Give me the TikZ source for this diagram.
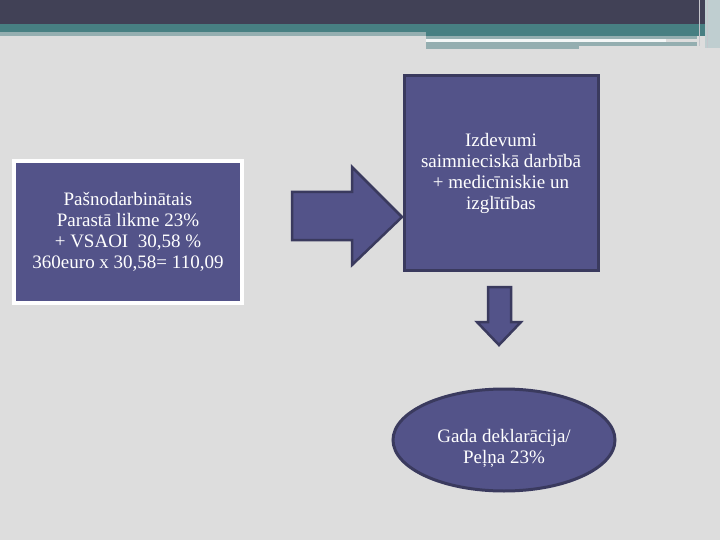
\documentclass[tikz,border=0pt]{standalone}
\usepackage{fontspec}
\setmainfont{Liberation Serif}
\usetikzlibrary{shapes.geometric}
\definecolor{slidebg}{RGB}{221,221,221}
\definecolor{hdrdark}{RGB}{65,65,86}
\definecolor{hdrteal}{RGB}{71,127,130}
\definecolor{hdrpale}{RGB}{148,174,176}
\definecolor{boxfill}{RGB}{83,83,137}
\definecolor{boxline}{RGB}{58,58,94}
\tikzset{
  blocktext/.style={text=white,align=center,font=\fontsize{19}{21}\selectfont},
  blockbox/.style={blocktext,fill=boxfill},
  blockarrow/.style={fill=boxfill,draw=boxline,line width=2.5pt,line join=miter}
}

\begin{document}
\begin{tikzpicture}[x=1pt,y=-1pt]
  \useasboundingbox (0,0) rectangle (720,540);
  \fill[slidebg] (0,0) rectangle (720,540);
  % header bands
  \fill[hdrdark] (0,0) rectangle (720,24);
  \fill[hdrteal] (0,24) rectangle (705,32);
  \fill[hdrpale] (0,32) rectangle (426,36);
  \fill[hdrteal] (426,32) rectangle (705,36);
  \fill[hdrpale] (426,36) rectangle (697,39);
  \fill[white!90!hdrpale] (426,39) rectangle (666,42);
  \fill[hdrpale] (426,42) rectangle (579,49);
  \fill[hdrpale] (579,42) rectangle (697,46);
  \fill[hdrpale!60!white] (705,0) rectangle (720,48);
  \draw[white!70!hdrdark,line width=1pt] (699,0) -- (699,46);
  \draw[white!70!hdrdark,line width=1pt] (707,0) -- (707,48);

  % left box
  \draw(128,232) node[blockbox,draw=white,line width=4pt,minimum width=228pt,minimum height=141pt,inner sep=0pt] (src)
    {Pašnodarbinātais\\Parastā likme 23\%\\+ VSAOI\ \ 30,58 \%\\360euro x 30,58= 110,09};

  % right box
  \draw(501,173) node[blockbox,draw=boxline,line width=3pt,minimum width=194pt,minimum height=194pt,inner sep=0pt] (costs)
    {Izdevumi\\saimnieciskā darbībā\\+ medicīniskie un\\izglītības};

  % bottom ellipse
  \draw(504,440) node[ellipse,fill=boxfill,draw=boxline,line width=3pt,minimum width=222pt,minimum height=102pt] (decl) {};
  \node[blocktext] (decltext) at (504,448) {Gada deklarācija/\\Peļņa 23\%};

  % block arrows
  \draw[blockarrow] (292,192) -- (352,192) -- (352,167) -- (402,217) -- (352,265) -- (352,240) -- (292,240) -- cycle;
  \draw[blockarrow] (488,287) -- (511,287) -- (511,322) -- (521,322) -- (499,345) -- (477,322) -- (488,322) -- cycle;
\end{tikzpicture}
\end{document}
